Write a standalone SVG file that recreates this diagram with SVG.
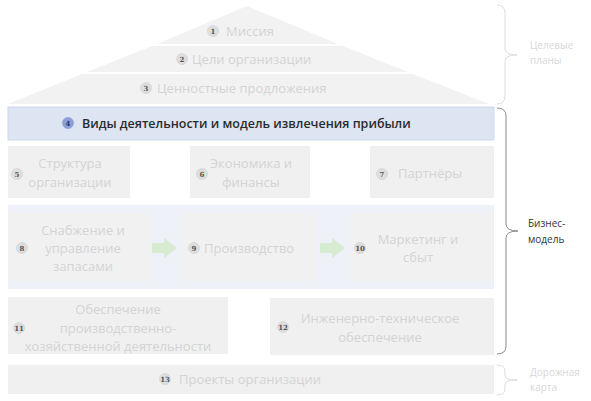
<svg xmlns="http://www.w3.org/2000/svg" width="591" height="401" viewBox="0 0 591 401">
<style>
.bg{fill:#ffffff}
.roof{fill:#f2f2f2}
.box{fill:#f0f0f0}
.band{fill:#eef1f8}
.inner{fill:#f1f1f2}
.t{font-family:"Open Sans","Noto Sans",sans-serif;font-size:13px;fill:#d4d4d4;text-anchor:middle}
.ts{font-family:"Open Sans","Noto Sans",sans-serif;font-size:13px;fill:#d4d4d4}
.c{fill:#dedede;stroke:#cfcfcf;stroke-width:0.6}
.n{font-family:"DejaVu Serif","Liberation Serif",serif;font-size:7px;font-weight:bold;fill:#555;text-anchor:middle}
.br{fill:none;stroke:#dcdcdc;stroke-width:1}
.brd{fill:none;stroke:#8a8a8a;stroke-width:1}
.lab{font-family:"Open Sans","Noto Sans",sans-serif;font-size:10px;fill:#d8d8d8}
.labd{font-family:"Open Sans","Noto Sans",sans-serif;font-size:10px;fill:#333}
.arr{fill:#d6ebcf}
</style>
<rect class="bg" x="0" y="0" width="591" height="401"/>

<g id="node1">
<polygon class="roof" points="247,6 338,44 157,44"/>
<circle class="c" cx="213" cy="31" r="5.5"/><text class="n" x="213" y="33.5">1</text>
<text class="ts" x="226" y="35.5">Миссия</text>
</g>
<g id="node2">
<polygon class="roof" points="152,46 343,46 408,72 87,72"/>
<circle class="c" cx="182" cy="59" r="5.5"/><text class="n" x="182" y="61.5">2</text>
<text class="ts" x="192" y="63.5">Цели организации</text>
</g>
<g id="node3">
<polygon class="roof" points="82,74 413,74 489,104 8,104"/>
<circle class="c" cx="146" cy="88" r="5.5"/><text class="n" x="146" y="90.5">3</text>
<text class="ts" x="157" y="92.5">Ценностные продложения</text>
</g>
<g id="node4">
<rect x="8" y="107" width="486" height="33" fill="#dde5f3" stroke="#cdd8ee" stroke-width="1"/>
<circle cx="68" cy="123" r="5.5" fill="#8d9fd6" stroke="#7d90cc" stroke-width="0.6"/><text class="n" x="68" y="125.5" style="fill:#2a3a70">4</text>
<text x="82" y="128" font-family="'Open Sans','Noto Sans',sans-serif" font-size="12.5px" font-weight="600" fill="#2b2b2b">Виды деятельности и модель извлечения прибыли</text>
</g>

<g id="node5">
<rect class="box" x="8" y="146" width="122" height="52"/>
<circle class="c" cx="17" cy="174" r="5.5"/><text class="n" x="17" y="176.5">5</text>
<text class="t" x="70" y="168">Структура</text>
<text class="t" x="70" y="187">организации</text>
</g>
<g id="node6">
<rect class="box" x="190" y="146" width="120" height="52"/>
<circle class="c" cx="202" cy="174" r="5.5"/><text class="n" x="202" y="176.5">6</text>
<text class="t" x="251" y="168">Экономика и</text>
<text class="t" x="251" y="187">финансы</text>
</g>
<g id="node7">
<rect class="box" x="370" y="146" width="124" height="52"/>
<circle class="c" cx="382" cy="174" r="5.5"/><text class="n" x="382" y="176.5">7</text>
<text class="ts" x="398" y="178">Партнёры</text>
</g>

<rect class="band" x="8" y="205" width="486" height="84"/>
<g id="node8">
<rect class="inner" x="8" y="213" width="142" height="68"/>
<circle class="c" cx="22" cy="248" r="5.5"/><text class="n" x="22" y="250.5">8</text>
<text class="t" x="83" y="235">Снабжение и</text>
<text class="t" x="83" y="253">управление</text>
<text class="t" x="83" y="271">запасами</text>
</g>
<g id="node9">
<rect class="inner" x="182" y="213" width="134" height="68"/>
<circle class="c" cx="194" cy="248" r="5.5"/><text class="n" x="194" y="250.5">9</text>
<text class="ts" x="204" y="252.5">Производство</text>
</g>
<g id="node10">
<rect class="inner" x="350" y="213" width="144" height="68"/>
<circle class="c" cx="360" cy="248" r="5.5"/><text class="n" x="360" y="250.5">10</text>
<text class="t" x="418" y="244">Маркетинг и</text>
<text class="t" x="418" y="262">сбыт</text>
</g>

<g id="node11">
<rect class="box" x="8" y="297" width="220" height="57"/>
<circle class="c" cx="19" cy="328" r="5.5"/><text class="n" x="19" y="330.5">11</text>
<text class="t" x="118" y="314">Обеспечение</text>
<text class="t" x="118" y="332.5">производственно-</text>
<text class="t" x="118" y="351">хозяйственной деятельности</text>
</g>
<g id="node12">
<rect class="box" x="270" y="298" width="224" height="57"/>
<circle class="c" cx="283" cy="327" r="5.5"/><text class="n" x="283" y="329.5">12</text>
<text class="t" x="380" y="323">Инженерно-техническое</text>
<text class="t" x="380" y="341.5">обеспечение</text>
</g>
<g id="node13">
<rect class="box" x="8" y="365" width="486" height="29"/>
<circle class="c" cx="165" cy="379" r="5.5"/><text class="n" x="165" y="381.5">13</text>
<text class="ts" x="179" y="383.5">Проекты организации</text>
</g>

<g id="connectors">
<polygon class="arr" points="152,243 164,243 164,238 177,248 164,258 164,253 152,253"/>
<polygon class="arr" points="320,243 332,243 332,238 345,248 332,258 332,253 320,253"/>
<path class="br" d="M497,5 Q505,5 505,13 L505,49 Q505,55 517,55 Q505,55 505,61 L505,96 Q505,104 497,104"/>
<path class="brd" d="M497,108 Q506,108 506,116 L506,224 Q506,231 518,231 Q506,231 506,238 L506,346 Q506,354 497,354"/>
<path class="br" d="M497,365 Q505,365 505,371 L505,376 Q505,380 517,380 Q505,380 505,384 L505,389 Q505,395 497,395"/>
</g>

<g id="labels">
<text class="lab" x="530" y="49">Целевые</text>
<text class="lab" x="530" y="64">планы</text>
<text class="labd" x="528" y="227">Бизнес-</text>
<text class="labd" x="528" y="243">модель</text>
<text class="lab" x="530" y="376">Дорожная</text>
<text class="lab" x="530" y="391">карта</text>
</g>
</svg>
